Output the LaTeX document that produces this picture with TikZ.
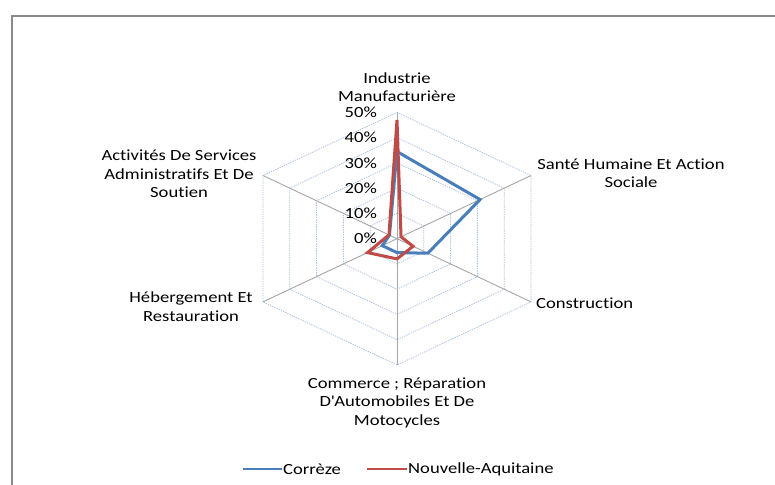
\documentclass[tikz,border=0pt]{standalone}
\usepackage{fontspec}
\setmainfont[FakeStretch=1.2, RawFeature={-liga}]{Carlito}
\definecolor{gridblue}{HTML}{A7C1E4}
\definecolor{spokegray}{HTML}{A6A6A6}
\definecolor{framegray}{HTML}{898989}
\definecolor{serblue}{HTML}{4A7EBB}
\definecolor{serred}{HTML}{BE4B48}
\tikzset{
  lbl/.style={inner sep=0pt, align=center, font={\fontsize{15.5}{18.5}\selectfont}, text=black},
  tick/.style={inner sep=0pt, anchor=east, font={\fontsize{15.5}{18.5}\selectfont}, text=black},
  ring/.style={draw=gridblue, line width=0.8pt, dash pattern=on 1.3pt off 1.1pt},
  spoke/.style={draw=spokegray, line width=0.9pt},
  ser/.style={line width=3pt, line join=miter},
  key/.style={line width=2.6pt}
}
\begin{document}
\begin{tikzpicture}[x=1pt,y=1pt]
\useasboundingbox (0,0) rectangle (775,484);
\fill[white] (0,0) rectangle (775,484);
% frame
\draw[framegray, line width=1.6pt] (12,-2) -- (12,468) -- (777,468);
% chart
\begin{scope}[shift={(397,245.3)}, x=3.094pt, y=2.526pt]
  \coordinate (c) at (0,0);
  \foreach \r in {10,20,30,40,50}{
    \draw[ring] (90:\r) -- (30:\r) -- (-30:\r) -- (-90:\r) -- (210:\r) -- (150:\r) -- cycle;
  }
  \foreach \a/\n in {90/a0,30/a1,-30/a2,-90/a3,210/a4,150/a5}{
    \coordinate (\n) at (\a:50);
    \draw[spoke] (c) -- (\n);
  }
  % Correze
  \draw[ser, serblue] (90:34.5) -- (30:31) -- (-30:11.5) -- (-90:5.5) -- (210:5.5) -- (150:2.8) -- cycle;
  % Nouvelle-Aquitaine
  \draw[ser, serred] (90:47) -- (30:1.5) -- (-30:6) -- (-90:8) -- (210:11) -- (150:3) -- cycle;
\end{scope}
% ticks
\foreach \k in {0,...,5}{
  \node[tick] (t\k) at (377,245.3+\k*25.26) {\the\numexpr\k*10\relax\%};
}
% category labels
\node[lbl] (lInd) at (397,397) {Industrie\\Manufacturière};
\node[lbl] (lSan) at (631,311) {Santé Humaine Et Action\\Sociale};
\node[lbl, anchor=west] (lCon) at (536,180.5) {Construction};
\node[lbl] (lCom) at (397,81.5) {Commerce ; Réparation\\D\textquotesingle Automobiles Et De\\Motocycles};
\node[lbl] (lHeb) at (191,177.5) {Hébergement Et\\Restauration};
\node[lbl] (lAct) at (179,310) {Activités De Services\\Administratifs Et De\\Soutien};
% legend
\coordinate (k1a) at (243,15);
\coordinate (k1b) at (282,15);
\coordinate (k2a) at (367,15);
\coordinate (k2b) at (407,15);
\draw[key, serblue] (k1a) -- (k1b);
\node[lbl, anchor=west] (g1) at (283,15) {Corrèze};
\draw[key, serred] (k2a) -- (k2b);
\node[lbl, anchor=west] (g2) at (408,15) {Nouvelle-Aquitaine};
\end{tikzpicture}
\end{document}
